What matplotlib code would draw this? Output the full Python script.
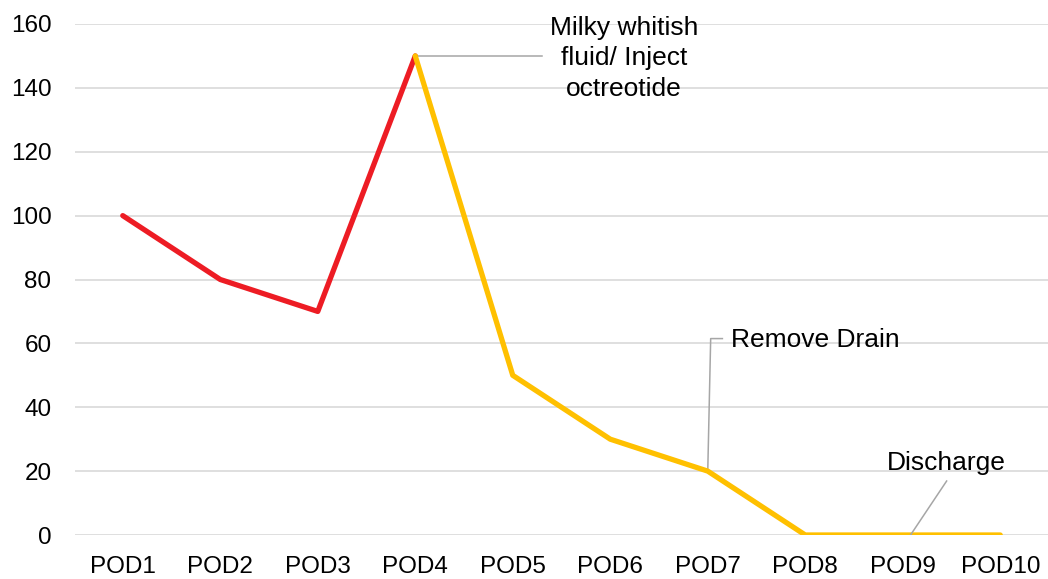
import matplotlib
matplotlib.use("Agg")
import matplotlib.pyplot as plt

categories = ["POD1", "POD2", "POD3", "POD4", "POD5", "POD6", "POD7", "POD8", "POD9", "POD10"]
values = [100, 80, 70, 150, 50, 30, 20, 0, 0, 0]
red_end = 3  # index where red series ends / yellow begins
yticks = [0, 20, 40, 60, 80, 100, 120, 140, 160]

plt.rcParams['font.family'] = ['Liberation Sans', 'DejaVu Sans']

fig = plt.figure(figsize=(10.48, 5.79), dpi=100)
ax = fig.add_axes([75/1048, 1-535/579, 974/1048, (535-24)/579])

x = list(range(len(categories)))
ax.plot(x[:red_end+1], values[:red_end+1], color="#ED1C24", lw=3.8,
        solid_capstyle='round', solid_joinstyle='round', zorder=3)
ax.plot(x[red_end:], values[red_end:], color="#FFC000", lw=3.8,
        solid_capstyle='round', solid_joinstyle='round', zorder=3)

ax.set_xlim(-0.49, 9.5)
ax.set_ylim(0, 160)
ax.set_xticks(x)
ax.set_xticklabels(categories)
ax.set_yticks(yticks)
ax.grid(axis='y', color="#D9D9D9", lw=1.2)
ax.set_axisbelow(True)
for s in ax.spines.values():
    s.set_visible(False)
ax.tick_params(axis='both', length=0, labelsize=17.5, colors="black")
ax.tick_params(axis='y', pad=17)
ax.tick_params(axis='x', pad=15)

lc = "#A6A6A6"
afs = 19
# Annotation 1
ax.plot([3, 4.30], [150, 150], color=lc, lw=1.1, zorder=2)
ax.text(5.14, 149.2, "Milky whitish\nfluid/ Inject\noctreotide", ha='center', va='center',
        fontsize=afs, linespacing=1.35)
# Annotation 2
ax.plot([6, 6.03, 6.15], [20, 61.5, 61.5], color=lc, lw=1.1, zorder=2)
ax.text(6.24, 61.2, "Remove Drain", ha='left', va='center', fontsize=afs)
# Annotation 3
ax.plot([8.08, 8.45], [0, 16.9], color=lc, lw=1.1, zorder=4)
ax.text(8.45, 22.5, "Discharge", ha='center', va='center', fontsize=afs)

fig.savefig("out.png", dpi=100)
